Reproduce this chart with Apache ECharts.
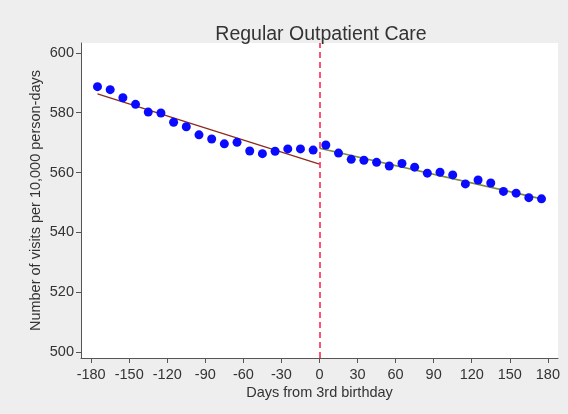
<!DOCTYPE html>
<html>
<head>
<meta charset="utf-8">
<script src="https://cdn.jsdelivr.net/npm/echarts@6/dist/echarts.min.js"></script>
<style>
  html, body { margin: 0; padding: 0; background: #eeeeee; }
  #chart { width: 568px; height: 414px; }
</style>
</head>
<body>
<div id="chart"></div>
<script>
// Binned visit rates (10-day bins) around the 3rd birthday
const daysBefore = [-175, -165, -155, -145, -135, -125, -115, -105, -95, -85, -75, -65, -55, -45, -35, -25, -15, -5];
const visitsBefore = [588.7, 587.7, 585.0, 582.8, 580.2, 579.9, 576.8, 575.3, 572.6, 571.2, 569.6, 570.1, 567.2, 566.3, 567.1, 567.9, 567.9, 567.5];
const daysAfter = [5, 15, 25, 35, 45, 55, 65, 75, 85, 95, 105, 115, 125, 135, 145, 155, 165, 175];
const visitsAfter = [569.2, 566.5, 564.4, 564.1, 563.4, 562.2, 563.0, 561.8, 559.8, 560.1, 559.2, 556.2, 557.5, 556.5, 553.7, 553.1, 551.6, 551.2];

// Linear fits on each side of the cutoff
const fitBeforeX = [-175, 0];
const fitBeforeY = [586.3, 562.8];
const fitAfterX = [0, 175];
const fitAfterY = [568.1, 551.2];

const xTicks = [-180, -150, -120, -90, -60, -30, 0, 30, 60, 90, 120, 150, 180];
const yTicks = [500, 520, 540, 560, 580, 600];

const zip = (xs, ys) => xs.map((x, i) => [x, ys[i]]);

const font = 'Liberation Sans, Arial, sans-serif';
const axisColor = '#555';
const textColor = '#333';

const chart = echarts.init(document.getElementById('chart'), null, { renderer: 'canvas' });
chart.setOption({
  backgroundColor: '#eeeeee',
  animation: false,
  title: {
    text: 'Regular Outpatient Care',
    left: 316, top: 20, textAlign: 'center',
    textStyle: { fontFamily: font, fontSize: 19.5, fontWeight: 'normal', color: textColor }
  },
  grid: {
    left: 81, right: 10, top: 43, bottom: 56,
    show: true, backgroundColor: '#ffffff', borderWidth: 0
  },
  xAxis: {
    type: 'value', min: -188, max: 188,
    name: 'Days from 3rd birthday', nameLocation: 'middle', nameGap: 27,
    nameMoveOverlap: false,
    nameTextStyle: { fontFamily: font, fontSize: 14.5, color: textColor },
    axisLine: { show: true, onZero: false, lineStyle: { color: axisColor, width: 1 } },
    axisTick: { show: true, length: 5, customValues: xTicks, lineStyle: { color: axisColor } },
    axisLabel: { customValues: xTicks, fontFamily: font, fontSize: 14.5, color: textColor, margin: 9 },
    splitLine: { show: false }
  },
  yAxis: {
    type: 'value', min: 498, max: 603.3,
    name: 'Number of visits per 10,000 person-days', nameLocation: 'middle', nameGap: 38,
    nameMoveOverlap: false,
    nameTextStyle: { fontFamily: font, fontSize: 14.5, color: textColor },
    axisLine: { show: true, onZero: false, lineStyle: { color: axisColor, width: 1 } },
    axisTick: { show: true, length: 5, customValues: yTicks, lineStyle: { color: axisColor } },
    axisLabel: { customValues: yTicks, fontFamily: font, fontSize: 14.5, color: textColor, margin: 7 },
    splitLine: { show: false }
  },
  series: [
    {
      type: 'line', data: zip(fitBeforeX, fitBeforeY), symbol: 'none',
      lineStyle: { color: '#8b2a1e', width: 1.2 }, z: 2
    },
    {
      type: 'line', data: zip(fitAfterX, fitAfterY), symbol: 'none',
      lineStyle: { color: '#7d8c3c', width: 1.6 }, z: 2
    },
    {
      type: 'scatter', data: zip(daysBefore, visitsBefore), symbolSize: 9,
      itemStyle: { color: '#0a0aff', opacity: 1 }, z: 3,
      markLine: {
        silent: true, symbol: 'none', label: { show: false },
        emphasis: { disabled: true },
        lineStyle: { color: '#ff1a4a', opacity: 1, type: [6, 4], width: 1.5 },
        data: [{ xAxis: 0 }]
      }
    },
    {
      type: 'scatter', data: zip(daysAfter, visitsAfter), symbolSize: 9,
      itemStyle: { color: '#0a0aff', opacity: 1 }, z: 3
    }
  ]
});
</script>
</body>
</html>
